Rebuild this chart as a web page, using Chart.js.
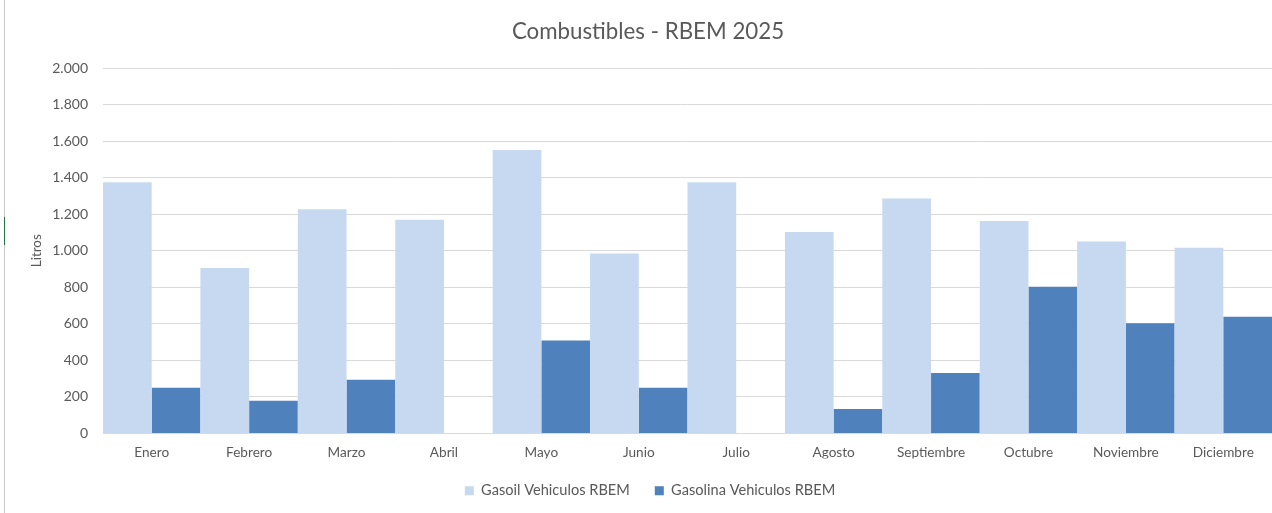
<!DOCTYPE html>
<html>
<head>
<meta charset="utf-8">
<script src="https://cdn.jsdelivr.net/npm/chart.js@4.4.1/dist/chart.umd.min.js"></script>
<style>
  html, body { margin: 0; padding: 0; background: #ffffff; }
  #wrap { position: relative; width: 1272px; height: 513px; overflow: hidden; }
  #c { position: absolute; left: 0; top: 0; }
  #edge { position: absolute; left: 4px; top: 0; width: 1px; height: 513px; background: #c8c8c8; }
  #edgeGreen { position: absolute; left: 4px; top: 217px; width: 1px; height: 28px; background: #217346; }
</style>
</head>
<body>
<div id="wrap">
  <canvas id="c" width="1272" height="513"></canvas>
  <div id="edge"></div>
  <div id="edgeGreen"></div>
</div>
<script>
const chartTitle = 'Combustibles - RBEM 2025';
const yAxisTitle = 'Litros';
const months = ['Enero','Febrero','Marzo','Abril','Mayo','Junio','Julio','Agosto','Septiembre','Octubre','Noviembre','Diciembre'];
const gasoilLabel = 'Gasoil Vehiculos RBEM';
const gasolinaLabel = 'Gasolina Vehiculos RBEM';
const gasoilValues = [1375, 905, 1227, 1169, 1551, 985, 1375, 1103, 1286, 1162, 1050, 1016];
const gasolinaValues = [250, 179, 294, 0, 508, 250, 0, 133, 331, 802, 603, 639];
const yTicks = [0, 200, 400, 600, 800, 1000, 1200, 1400, 1600, 1800, 2000];

const FONT = 'Lato, "Open Sans", sans-serif';
const TEXT = '#595959';

function fmt(v) {
  return String(v).replace(/\B(?=(\d{3})+(?!\d))/g, '.');
}

// Title drawn centred over the original (wider) Excel chart frame
const titlePlugin = {
  id: 'excelTitle',
  afterDraw(chart) {
    const ctx = chart.ctx;
    ctx.save();
    ctx.font = '22.3px ' + FONT;
    ctx.fillStyle = TEXT;
    ctx.textAlign = 'center';
    ctx.textBaseline = 'middle';
    ctx.fillText(chartTitle, 648, 32);
    ctx.restore();
  }
};

new Chart(document.getElementById('c'), {
  type: 'bar',
  data: {
    labels: months,
    datasets: [
      { label: gasoilLabel, data: gasoilValues, backgroundColor: '#c6d9f0', borderWidth: 0, inflateAmount: 0 },
      { label: gasolinaLabel, data: gasolinaValues, backgroundColor: '#4f81bd', borderWidth: 0, inflateAmount: 0 }
    ]
  },
  plugins: [titlePlugin],
  options: {
    responsive: false,
    animation: false,
    devicePixelRatio: 1,
    layout: { padding: { left: 28, right: 0, top: 68, bottom: 5 } },
    datasets: { bar: { categoryPercentage: 1.0, barPercentage: 1.0 } },
    plugins: {
      title: { display: false },
      legend: {
        position: 'bottom',
        labels: {
          color: TEXT,
          font: { family: FONT, size: 14.6 },
          boxWidth: 9,
          boxHeight: 9,
          padding: 25
        }
      },
      tooltip: { enabled: false }
    },
    scales: {
      x: {
        grid: { display: false, drawTicks: false },
        border: { display: false },
        ticks: { color: TEXT, font: { family: FONT, size: 13.6 }, padding: 11, maxRotation: 0 },
        afterFit: (s) => { s.height = 25; }
      },
      y: {
        min: 0,
        max: 2000,
        afterBuildTicks: (s) => { s.ticks = yTicks.map(v => ({ value: v })); },
        grid: { color: '#d9d9d9', lineWidth: 1, drawTicks: false },
        border: { display: false },
        ticks: { color: TEXT, font: { family: FONT, size: 14 }, padding: 15, callback: (v) => fmt(v) },
        title: {
          display: true,
          text: yAxisTitle,
          color: TEXT,
          font: { family: FONT, size: 13.5 },
          padding: { top: 1, bottom: 0 }
        },
        afterFit: (s) => { s.width = 75; }
      }
    }
  }
});
</script>
</body>
</html>
